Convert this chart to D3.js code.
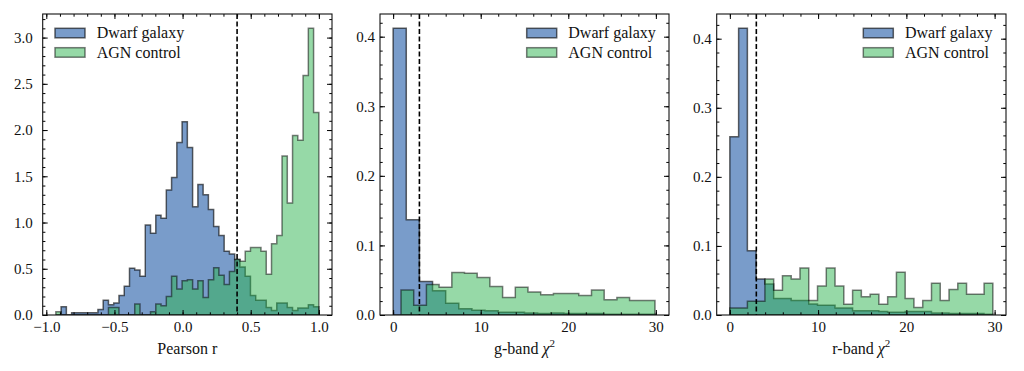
<!DOCTYPE html>
<html><head><meta charset="utf-8">
<script src="https://cdn.jsdelivr.net/npm/d3@7"></script>
<style>
body{margin:0;background:#fff}
svg text{font-family:"Liberation Serif","DejaVu Serif",serif;fill:#111}
</style>
</head><body><svg id="c" width="1024" height="371"></svg>
<script>
// ---------------- data ----------------
const seriesNames = ["Dwarf galaxy", "AGN control"];

// Panel 1: Pearson r, 50 shared bins
const pearsonBinRange = [-0.93, 1.0];
const pearsonDwarf = [0,0.09,0,0.025,0.025,0.025,0.025,0.025,0.06,0.16,0.11,0.13,0.21,0.31,0.505,0.487,0.42,0.974,0.884,1.08,1.046,1.353,1.486,1.865,2.09,1.81,1.17,1.41,1.30,1.14,0.956,0.86,0.69,0.66,0.60,0.52,0.42,0.21,0.16,0.16,0.08,0.05,0.13,0.13,0.08,0.05,0.075,0.075,0.11,0.09];
const pearsonAgn = [0.036,0,0,0,0,0,0,0,0,0,0.08,0.08,0,0,0,0.12,0,0,0.036,0.12,0.10,0.20,0.42,0.28,0.37,0.38,0.28,0.37,0.19,0.38,0.51,0.43,0.33,0.47,0.60,0.58,0.69,0.73,0.73,0.69,0.44,0.77,0.86,1.72,1.21,1.94,1.89,2.59,3.10,2.19];

// Panel 2: g-band chi^2, 20 bins each
const gBinRangeDwarf = [0, 30];
const gDwarf = [0.412,0.137,0.048,0.035,0.017,0.009,0.007,0.006,0.004,0.004,0.003,0.002,0.003,0.002,0.002,0.002,0.001,0.001,0.001,0.001];
const gBinRangeAgn = [0.9, 29.9];
const gAgn = [0.036,0.014,0.044,0.040,0.061,0.060,0.054,0.041,0.025,0.040,0.033,0.029,0.031,0.031,0.028,0.036,0.022,0.025,0.021,0.021];

// Panel 3: r-band chi^2, 30 shared bins
const rBinRange = [0, 29.8];
const rDwarf = [0.258,0.415,0.093,0.052,0.045,0.024,0.024,0.021,0.021,0.016,0.014,0.014,0.010,0.010,0.006,0.006,0.006,0.005,0.004,0.004,0.005,0.005,0.005,0.003,0.003,0.002,0.002,0.002,0.002,0.001];
const rAgn = [0.010,0.010,0.020,0.020,0.052,0.036,0.057,0.052,0.068,0.021,0.042,0.068,0.042,0.0155,0.036,0.0265,0.030,0.0155,0.0265,0.062,0.024,0.011,0.021,0.046,0.021,0.037,0.046,0.030,0.030,0.046];

const pearsonTicksX = [-1.0, -0.5, 0.0, 0.5, 1.0];
const pearsonTicksY = [0, 0.5, 1.0, 1.5, 2.0, 2.5, 3.0];
const chiTicksX = [0, 10, 20, 30];
const chiTicksY = [0, 0.1, 0.2, 0.3, 0.4];
const cutValues = [0.4, 3, 3];
const xLabels = ["Pearson r", "g-band", "r-band"];

// ---------------- styling / layout ----------------
const FONT = '"Liberation Serif","DejaVu Serif",serif';
const blue = "#1f5aa6", green = "#2eb450";
const blueA = 0.6, greenA = 0.5;
const plotTop = 14, plotBottom = 315;

function linspace(r, n){ return d3.range(n+1).map(i => r[0] + i*(r[1]-r[0])/n); }

const panels = [
  {left:42.7, right:332, xdom:[-1.0265,1.0965], ticksX:pearsonTicksX, ticksY:pearsonTicksY,
   minorX:d3.range(-10,11,1).map(v=>v/10), minorY:d3.range(0,33,1).map(v=>v/10), fx:d3.format(".1f"), fy:d3.format(".1f"),
   ypad:10, series:[[linspace(pearsonBinRange,pearsonDwarf.length),pearsonDwarf],[linspace(pearsonBinRange,pearsonAgn.length),pearsonAgn]],
   legend:{x:55, tx:96.7}, cut:cutValues[0], label:xLabels[0], chi:false},
  {left:380, right:669, xdom:[-1.5,31.5], ticksX:chiTicksX, ticksY:chiTicksY,
   minorX:d3.range(0,31,2), minorY:d3.range(0,22,1).map(v=>v/50), fx:d3.format("d"), fy:d3.format(".1f"),
   ypad:5, series:[[linspace(gBinRangeDwarf,gDwarf.length),gDwarf],[linspace(gBinRangeAgn,gAgn.length),gAgn]],
   legend:{x:526.7, tx:568.3}, cut:cutValues[1], label:xLabels[1], chi:true},
  {left:716.7, right:1006, xdom:[-1.49,31.29], ticksX:chiTicksX, ticksY:chiTicksY,
   minorX:d3.range(0,31,2), minorY:d3.range(0,22,1).map(v=>v/50), fx:d3.format("d"), fy:d3.format(".1f"),
   ypad:5, series:[[linspace(rBinRange,rDwarf.length),rDwarf],[linspace(rBinRange,rAgn.length),rAgn]],
   legend:{x:863.3, tx:905}, cut:cutValues[2], label:xLabels[2], chi:true}
];

const svg = d3.select("#c");
const colors = [blue, green], alphas = [blueA, greenA];

panels.forEach(p => {
  const ymax = 1.05 * d3.max(p.series, s => d3.max(s[1]));
  const x = d3.scaleLinear().domain(p.xdom).range([p.left, p.right]);
  const y = d3.scaleLinear().domain([0, ymax]).range([plotBottom, plotTop]);
  const g = svg.append("g");

  const clipId = "clip" + Math.round(p.left);
  svg.append("clipPath").attr("id", clipId).append("rect")
    .attr("x", p.left).attr("y", plotTop).attr("width", p.right-p.left).attr("height", plotBottom-plotTop);
  const plot = g.append("g").attr("clip-path", `url(#${clipId})`);

  const line = d3.line().x(d => x(d[0])).y(d => y(d[1]));
  p.series.forEach((s, k) => {
    const [edges, vals] = s;
    const pts = [[edges[0], 0]];
    vals.forEach((v, i) => { pts.push([edges[i], v]); pts.push([edges[i+1], v]); });
    pts.push([edges[edges.length-1], 0]);
    plot.append("path").attr("d", line(pts) + "Z")
      .attr("fill", colors[k]).attr("fill-opacity", alphas[k])
      .attr("stroke", "#000").attr("stroke-opacity", alphas[k])
      .attr("stroke-width", 1.5).attr("stroke-linejoin", "miter");
  });

  // threshold line
  plot.append("line").attr("x1", x(p.cut)).attr("x2", x(p.cut)).attr("y1", plotTop).attr("y2", plotBottom)
    .attr("stroke", "#000").attr("stroke-width", 1.6).attr("stroke-dasharray", "5,2.5");

  // axes (inward ticks)
  const mk = (axis, tr, vals, size, fmt, pad) => {
    const a = axis.tickValues(vals).tickSize(-size).tickPadding(pad);
    a.tickFormat(fmt || (() => ""));
    const ag = g.append("g").attr("transform", tr).call(a);
    ag.attr("font-family", FONT);
    ag.select(".domain").remove();
    ag.selectAll("line").attr("stroke", "#000").attr("stroke-width", 1);
    ag.selectAll("text").attr("font-size", 15).attr("fill", "#111").attr("font-family", FONT);
    return ag;
  };
  mk(d3.axisBottom(x), `translate(0,${plotBottom})`, p.ticksX, 5, p.fx, 6);
  mk(d3.axisBottom(x), `translate(0,${plotBottom})`, p.minorX, 2.7, null, 0);
  mk(d3.axisTop(x), `translate(0,${plotTop})`, p.ticksX, 5, null, 0);
  mk(d3.axisTop(x), `translate(0,${plotTop})`, p.minorX, 2.7, null, 0);
  mk(d3.axisLeft(y), `translate(${p.left},0)`, p.ticksY, 5, p.fy, p.ypad);
  mk(d3.axisLeft(y), `translate(${p.left},0)`, p.minorY, 2.7, null, 0);
  mk(d3.axisRight(y), `translate(${p.right},0)`, p.ticksY, 5, null, 0);
  mk(d3.axisRight(y), `translate(${p.right},0)`, p.minorY, 2.7, null, 0);

  // frame
  g.append("rect").attr("x", p.left).attr("y", plotTop).attr("width", p.right-p.left).attr("height", plotBottom-plotTop)
    .attr("fill", "none").attr("stroke", "#111").attr("stroke-width", 1.1);

  // x label
  const t = g.append("text").attr("x", (p.left+p.right)/2).attr("y", 354)
    .attr("text-anchor", "middle").attr("font-size", 16).attr("font-family", FONT);
  t.append("tspan").text(p.label);
  if (p.chi) {
    t.append("tspan").text(" ");
    t.append("tspan").attr("font-style", "italic").text("χ");
    t.append("tspan").attr("font-size", 11).attr("dy", -7).text("2");
  }

  // legend
  seriesNames.forEach((name, k) => {
    const yy = 28.3 + k*19.4;
    g.append("rect").attr("x", p.legend.x).attr("y", yy).attr("width", 30).attr("height", 9.5)
      .attr("fill", colors[k]).attr("fill-opacity", alphas[k])
      .attr("stroke", "#000").attr("stroke-opacity", alphas[k]).attr("stroke-width", 1.5);
    g.append("text").attr("x", p.legend.tx).attr("y", yy + 9.8).attr("font-size", 16)
      .attr("font-family", FONT).text(name);
  });
});
</script>
</body></html>
